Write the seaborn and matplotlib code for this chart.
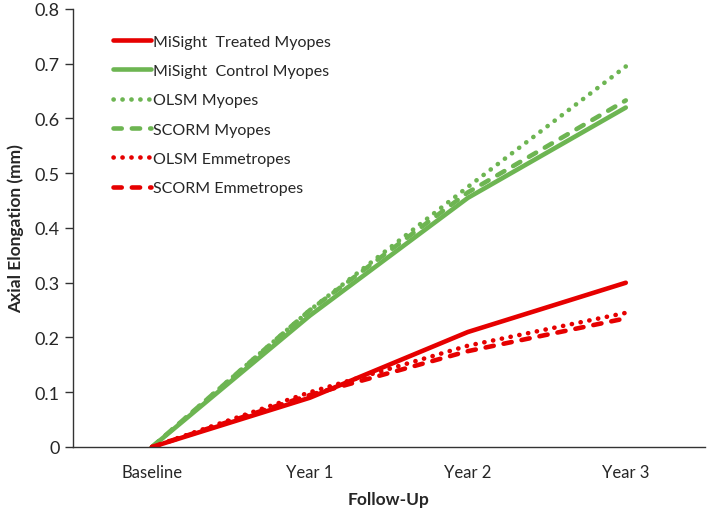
import matplotlib
matplotlib.use("Agg")
import matplotlib.pyplot as plt
import seaborn as sns
import pandas as pd

timepoints = ["Baseline", "Year 1", "Year 2", "Year 3"]
misight_treated = [0.0, 0.09, 0.21, 0.30]
misight_control = [0.0, 0.24, 0.455, 0.62]
olsm_myopes = [0.0, 0.25, 0.475, 0.695]
scorm_myopes = [0.0, 0.25, 0.465, 0.633]
olsm_emmetropes = [0.0, 0.10, 0.185, 0.245]
scorm_emmetropes = [0.0, 0.095, 0.175, 0.235]

dot = (0, (0.05, 1.9))
dash = (0, (1.8, 2.2))
series = [
    ("MiSight  Treated Myopes", misight_treated, "#E60000", "-"),
    ("MiSight  Control Myopes", misight_control, "#6DB552", "-"),
    ("OLSM Myopes", olsm_myopes, "#6DB552", dot),
    ("SCORM Myopes", scorm_myopes, "#6DB552", dash),
    ("OLSM Emmetropes", olsm_emmetropes, "#E60000", dot),
    ("SCORM Emmetropes", scorm_emmetropes, "#E60000", dash),
]

sns.set_style("white")
plt.rcParams["font.family"] = ["Lato", "DejaVu Sans"]

fig = plt.figure(figsize=(7.09, 5.10), dpi=100)
ax = fig.add_axes([0.103, 0.1216, 0.891, 0.8588])

for name, vals, color, ls in series:
    df = pd.DataFrame({"x": range(len(timepoints)), "y": vals})
    sns.lineplot(data=df, x="x", y="y", ax=ax, color=color, linewidth=3.3,
                 label=name, sort=False)
    line = ax.get_lines()[-1]
    line.set_linestyle(ls)
    line.set_dash_capstyle("round")
    line.set_solid_capstyle("round")

ax.set_xlim(-0.5, 3.5)
ax.set_ylim(0, 0.8)
ax.set_xticks(range(len(timepoints)))
ax.set_xticklabels(timepoints, fontsize=12)
ax.set_xticks([-0.5, 0.5, 1.5, 2.5, 3.5], minor=True)
ax.tick_params(axis="x", which="major", length=0, pad=12)
ax.tick_params(axis="x", which="minor", length=6, width=1, color="#333333", direction="out")
ax.set_yticks([i / 10 for i in range(9)])
ax.set_yticklabels(["0", "0.1", "0.2", "0.3", "0.4", "0.5", "0.6", "0.7", "0.8"], fontsize=13)
ax.tick_params(axis="y", length=6, width=1, color="#333333", direction="out", left=True)

for s in ["top", "right"]:
    ax.spines[s].set_visible(False)
for s in ["left", "bottom"]:
    ax.spines[s].set_color("#333333")
    ax.spines[s].set_linewidth(1)

ax.set_xlabel("Follow-Up", fontsize=12.5, fontweight="bold", labelpad=8)
ax.set_ylabel("Axial Elongation (mm)", fontsize=12.5, fontweight="bold", labelpad=8)

leg = ax.legend(loc="upper left", bbox_to_anchor=(0.04, 0.975), frameon=False,
                fontsize=11.5, handlelength=2.4, handletextpad=0.15, labelspacing=0.95)

fig.savefig("out.png", dpi=100)
